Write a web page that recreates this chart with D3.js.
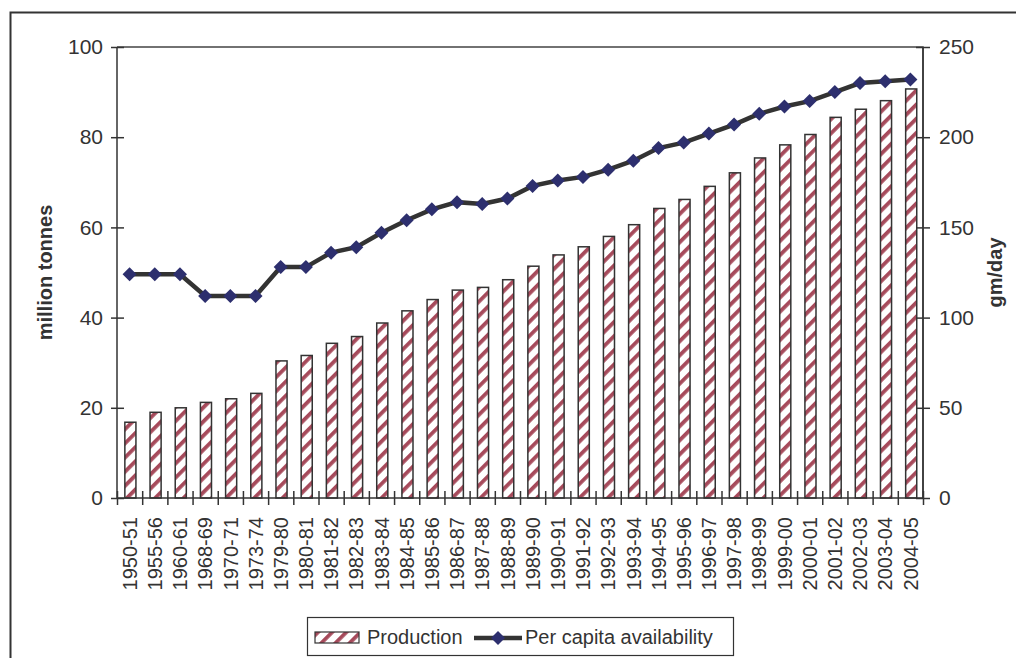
<!DOCTYPE html>
<html>
<head>
<meta charset="utf-8">
<script src="https://cdn.jsdelivr.net/npm/d3@7/dist/d3.min.js"></script>
<style>
  body { margin: 0; background: #fff; }
  svg { font-family: "Liberation Sans", Arial, sans-serif; }
  .axis path, .axis line { stroke: #333; stroke-width: 1.5; }
  .axis text { fill: #333; font-size: 21px; }
  .axis.xlab text { font-size: 20px; }
  .axis-title { fill: #333; font-size: 20px; font-weight: bold; }
</style>
</head>
<body>
<svg id="chart" width="1016" height="658"></svg>
<script>
const width = 1016;
const height = 658;

const margin = { top: 47, bottom: 160, left: 117, right: 93 };

/* DATA */
const years = ["1950-51", "1955-56", "1960-61", "1968-69", "1970-71", "1973-74",
  "1979-80", "1980-81", "1981-82", "1982-83", "1983-84", "1984-85", "1985-86",
  "1986-87", "1987-88", "1988-89", "1989-90", "1990-91", "1991-92", "1992-93",
  "1993-94", "1994-95", "1995-96", "1996-97", "1997-98", "1998-99", "1999-00",
  "2000-01", "2001-02", "2002-03", "2003-04", "2004-05"];

// million tonnes
const production = [16.8, 19.0, 20.0, 21.2, 22.0, 23.2, 30.4, 31.6, 34.3, 35.8,
  38.8, 41.5, 44.0, 46.1, 46.7, 48.4, 51.4, 53.9, 55.7, 58.0, 60.6, 64.2, 66.2,
  69.1, 72.1, 75.4, 78.3, 80.6, 84.4, 86.2, 88.1, 90.7];

// gm/day
const perCapita = [124, 124, 124, 112, 112, 112, 128, 128, 136, 139, 147, 154,
  160, 164, 163, 166, 173, 176, 178, 182, 187, 194, 197, 202, 207, 213, 217,
  220, 225, 230, 231, 232];

const leftTicks = [0, 20, 40, 60, 80, 100];
const rightTicks = [0, 50, 100, 150, 200, 250];

const svg = d3.select("svg#chart");

/* SCALES */
const x0 = margin.left, x1 = width - margin.right;
const y0 = height - margin.bottom, y1 = margin.top;

const scales = {
  x: d3.scaleBand().domain(years).range([x0, x1]),
  edge: d3.scaleLinear().domain([0, years.length]).range([x0, x1]),
  y: d3.scaleLinear().domain([0, 100]).range([y0, y1]),
  y2: d3.scaleLinear().domain([0, 250]).range([y0, y1])
};

/* OUTER FRAME */
svg.append("rect")
  .attr("x", 10.5).attr("y", 12.5)
  .attr("width", 1100).attr("height", 700)
  .attr("fill", "none").attr("stroke", "#333").attr("stroke-width", 2);

/* PATTERN */
const defs = svg.append("defs");
const pat = defs.append("pattern")
  .attr("id", "stripes")
  .attr("patternUnits", "userSpaceOnUse")
  .attr("width", 10).attr("height", 10)
  .attr("patternTransform", "rotate(45)");
pat.append("rect").attr("width", 10).attr("height", 10).attr("fill", "#fff");
pat.append("rect").attr("x", 0).attr("width", 3.8).attr("height", 10).attr("fill", "#a64a5b");

/* PLOT BORDER (top/right) */
svg.append("path")
  .attr("d", `M${x0},${y1}H${x1}V${y0}`)
  .attr("fill", "none").attr("stroke", "#444").attr("stroke-width", 1.5);

/* BARS */
const barW = scales.x.bandwidth() * 0.44;
svg.append("g").attr("id", "bars")
  .selectAll("rect")
  .data(years)
  .enter()
  .append("rect")
    .attr("x", d => scales.x(d) + scales.x.bandwidth() / 2 - barW / 2 + 0.8)
    .attr("y", (d, i) => scales.y(production[i]))
    .attr("width", barW)
    .attr("height", (d, i) => y0 - scales.y(production[i]))
    .attr("fill", "url(#stripes)")
    .attr("stroke", "#333")
    .attr("stroke-width", 1.5);

/* AXES */
const yAxisG = svg.append("g").attr("class", "axis")
  .attr("transform", `translate(${x0},0)`)
  .call(d3.axisLeft(scales.y).tickValues(leftTicks).tickSize(6).tickPadding(8));
yAxisG.selectAll(".tick line").attr("x1", 7);
yAxisG.select(".domain").attr("d", `M0,${y1}V${y0}`);

const y2AxisG = svg.append("g").attr("class", "axis")
  .attr("transform", `translate(${x1},0)`)
  .call(d3.axisRight(scales.y2).tickValues(rightTicks).tickSize(7).tickPadding(9));
y2AxisG.selectAll(".tick line").attr("x1", -7);
y2AxisG.select(".domain").attr("d", `M0,${y1}V${y0}`);

const xTickG = svg.append("g").attr("class", "axis")
  .attr("transform", `translate(0,${y0})`)
  .call(d3.axisBottom(scales.edge).tickValues(d3.range(years.length + 1)).tickFormat("").tickSize(7));
xTickG.selectAll(".tick line").attr("y1", -7);
xTickG.select(".domain").attr("d", `M${x0},0H${x1}`);

const xLabG = svg.append("g").attr("class", "axis xlab")
  .attr("transform", `translate(0,${y0})`)
  .call(d3.axisBottom(scales.x).tickSize(0));
xLabG.select(".domain").remove();
xLabG.selectAll("text")
  .attr("transform", "rotate(-90)")
  .attr("x", -19)
  .attr("y", 0)
  .attr("dx", 0)
  .attr("dy", "0.36em")
  .attr("text-anchor", "end");

/* LINE */
const line = d3.line()
  .x(d => scales.x(d[0]) + scales.x.bandwidth() / 2)
  .y(d => scales.y2(d[1]));
const pts = years.map((d, i) => [d, perCapita[i]]);
svg.append("path")
  .datum(pts)
  .attr("d", line)
  .attr("fill", "none")
  .attr("stroke", "#333")
  .attr("stroke-width", 4.5);

const diamond = d3.symbol().type(d3.symbolDiamond2).size(125);
svg.append("g").selectAll("path")
  .data(pts)
  .enter()
  .append("path")
    .attr("d", diamond)
    .attr("transform", d => `translate(${scales.x(d[0]) + scales.x.bandwidth() / 2},${scales.y2(d[1])})`)
    .attr("fill", "#2d2f6e");

/* AXIS TITLES */
svg.append("text")
  .attr("class", "axis-title")
  .attr("transform", `translate(45,${(y0 + y1) / 2}) rotate(-90)`)
  .attr("dy", "0.36em")
  .attr("text-anchor", "middle")
  .text("million tonnes");

svg.append("text")
  .attr("class", "axis-title")
  .attr("transform", `translate(995,${(y0 + y1) / 2}) rotate(-90)`)
  .attr("dy", "0.36em")
  .attr("text-anchor", "middle")
  .text("gm/day");

/* LEGEND */
const legend = svg.append("g").attr("id", "legend");
legend.append("rect")
  .attr("x", 307.5).attr("y", 617.5).attr("width", 426).attr("height", 38)
  .attr("fill", "#fff").attr("stroke", "#333").attr("stroke-width", 1.2);
legend.append("rect")
  .attr("x", 315).attr("y", 632).attr("width", 44).attr("height", 11)
  .attr("fill", "url(#stripes)").attr("stroke", "#333").attr("stroke-width", 1.2);
legend.append("text")
  .attr("x", 367).attr("y", 644)
  .attr("font-size", 20).attr("fill", "#333")
  .text("Production");
legend.append("line")
  .attr("x1", 474).attr("x2", 522).attr("y1", 638).attr("y2", 638)
  .attr("stroke", "#333").attr("stroke-width", 4.5);
legend.append("path")
  .attr("d", diamond)
  .attr("transform", "translate(498,638)")
  .attr("fill", "#2d2f6e");
legend.append("text")
  .attr("x", 525).attr("y", 644)
  .attr("font-size", 20).attr("fill", "#333")
  .text("Per capita availability");
</script>
</body>
</html>
